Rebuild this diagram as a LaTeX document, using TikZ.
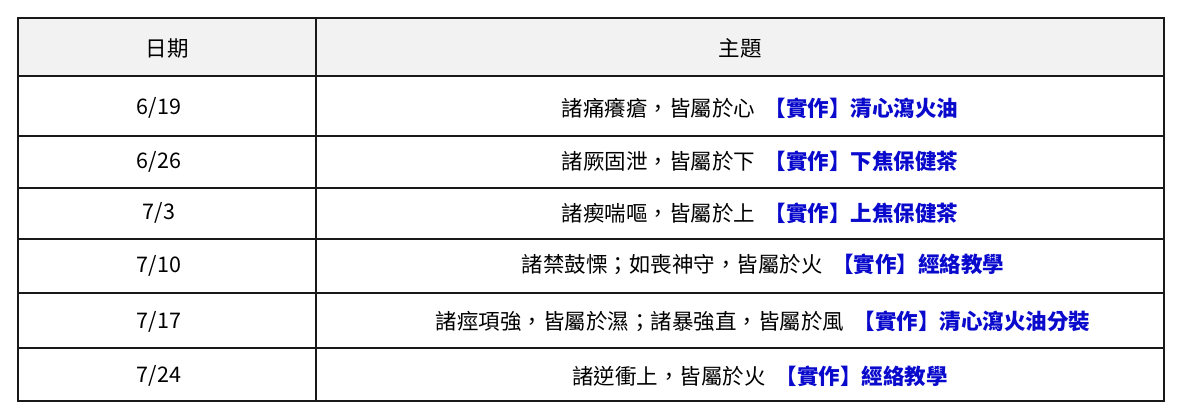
\documentclass[tikz,border=0pt]{standalone}
\usepackage{fontspec}
\setmainfont{Noto Sans CJK TC}
\definecolor{hdr}{HTML}{F2F2F2}
\definecolor{lnk}{HTML}{0A0ACC}
\begin{document}
\begin{tikzpicture}[x=1pt,y=-1pt,
  cell/.style={font=\fontsize{21.5}{24}\selectfont, inner sep=0pt, anchor=center}]
\useasboundingbox (0,0) rectangle (1189,416);
\fill[hdr] (18,18) rectangle (1164,76);
\draw[line width=1.6pt,black!90] (18,18) rectangle (1164,401);
\foreach \y in {76,136,188,239,293,348} \draw[line width=1.6pt,black!90] (18,\y) -- (1164,\y);
\draw[line width=1.6pt,black!90] (316,18) -- (316,401);
\node[cell] (h1) at (167,48) {日期};
\node[cell] (h2) at (740,48) {主題};
\node[cell] (d1) at (159,108) {6/19};
\node[cell] (d2) at (159,162) {6/26};
\node[cell] (d3) at (159,213) {7/3};
\node[cell] (d4) at (159,266) {7/10};
\node[cell] (d5) at (159,322) {7/17};
\node[cell] (d6) at (159,376) {7/24};
\node[cell] (t1) at (760,108) {諸痛癢瘡，皆屬於心\ \ {\bfseries\color{lnk}【實作】清心瀉火油}};
\node[cell] (t2) at (760,161) {諸厥固泄，皆屬於下\ \ {\bfseries\color{lnk}【實作】下焦保健茶}};
\node[cell] (t3) at (760,213) {諸瘈喘嘔，皆屬於上\ \ {\bfseries\color{lnk}【實作】上焦保健茶}};
\node[cell] (t4) at (763,264) {諸禁鼓慄；如喪神守，皆屬於火\ \ {\bfseries\color{lnk}【實作】經絡教學}};
\node[cell] (t5) at (763,321) {諸痙項強，皆屬於濕；諸暴強直，皆屬於風\ \ {\bfseries\color{lnk}【實作】清心瀉火油分裝}};
\node[cell] (t6) at (760,376) {諸逆衝上，皆屬於火\ \ {\bfseries\color{lnk}【實作】經絡教學}};
\end{tikzpicture}
\end{document}
